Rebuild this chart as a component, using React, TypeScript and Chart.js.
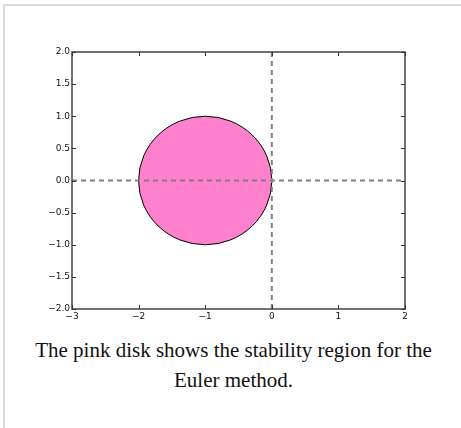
import React, { useEffect, useRef } from 'react';
import { Chart, registerables } from 'chart.js';

Chart.register(...registerables);

// ---- data ----
const xTicks = [-3, -2, -1, 0, 1, 2];
const yTicks = [-2, -1.5, -1, -0.5, 0, 0.5, 1, 1.5, 2];
const xRange = [-3, 2];
const yRange = [-2, 2];
const diskCenter = [-1, 0];
const diskRadius = 1;
const horizontalAxisLine = [
  { x: -3, y: 0 },
  { x: 2, y: 0 },
];
const verticalAxisLine = [
  { x: 0, y: -2 },
  { x: 0, y: 2 },
];
const captionLine1 = 'The pink disk shows the stability region for the';
const captionLine2 = 'Euler method.';

const MINUS = '\u2212';
const fmtX = (v: number) => (v < 0 ? MINUS : '') + Math.abs(v).toFixed(0);
const fmtY = (v: number) => (v < 0 ? MINUS : '') + Math.abs(v).toFixed(1);

const diskPlugin = {
  id: 'disk',
  beforeDatasetsDraw(chart: any) {
    const { ctx, scales } = chart;
    const x = scales.x;
    const y = scales.y;
    const cx = x.getPixelForValue(diskCenter[0]);
    const cy = y.getPixelForValue(diskCenter[1]);
    const rx = Math.abs(x.getPixelForValue(diskCenter[0] + diskRadius) - cx);
    const ry = Math.abs(y.getPixelForValue(diskCenter[1] + diskRadius) - cy);
    ctx.save();
    ctx.beginPath();
    ctx.ellipse(cx, cy, rx, ry, 0, 0, Math.PI * 2);
    ctx.fillStyle = '#ff80cc';
    ctx.fill();
    ctx.strokeStyle = '#000';
    ctx.lineWidth = 1;
    ctx.stroke();
    ctx.restore();
  },
};

const framePlugin = {
  id: 'frame',
  afterDraw(chart: any) {
    const { ctx, chartArea, scales } = chart;
    const { left, right, top, bottom } = chartArea;
    const tl = 4;
    ctx.save();
    ctx.strokeStyle = '#444';
    ctx.lineWidth = 1.5;
    ctx.beginPath();
    ctx.rect(left, top, right - left, bottom - top);
    ctx.stroke();
    ctx.lineWidth = 1;
    ctx.strokeStyle = '#333';
    ctx.beginPath();
    xTicks.forEach((v) => {
      const px = Math.round(scales.x.getPixelForValue(v)) + 0.5;
      ctx.moveTo(px, bottom);
      ctx.lineTo(px, bottom - tl);
      ctx.moveTo(px, top);
      ctx.lineTo(px, top + tl);
    });
    yTicks.forEach((v) => {
      const py = Math.round(scales.y.getPixelForValue(v)) + 0.5;
      ctx.moveTo(left, py);
      ctx.lineTo(left + tl, py);
      ctx.moveTo(right, py);
      ctx.lineTo(right - tl, py);
    });
    ctx.stroke();
    ctx.restore();
  },
};

function StabilityChart() {
  const ref = useRef<HTMLCanvasElement | null>(null);
  useEffect(() => {
    if (!ref.current) return;
    const tickFont = { family: '"DejaVu Sans", sans-serif', size: 9 };
    const dashed = {
      showLine: true,
      borderColor: '#808080',
      borderWidth: 2,
      borderDash: [5, 4],
      pointRadius: 0,
      fill: false,
    };
    const chart = new Chart(ref.current, {
      type: 'scatter',
      data: {
        datasets: [
          { ...dashed, data: horizontalAxisLine },
          { ...dashed, data: verticalAxisLine },
        ],
      },
      options: {
        animation: false,
        responsive: false,
        devicePixelRatio: 1,
        layout: { padding: { left: 0, top: 52, right: 56, bottom: 0 } },
        plugins: { legend: { display: false }, tooltip: { enabled: false } },
        scales: {
          x: {
            type: 'linear',
            min: xRange[0],
            max: xRange[1],
            grid: { display: false, drawTicks: false },
            border: { display: false },
            afterBuildTicks: (s: any) => {
              s.ticks = xTicks.map((v) => ({ value: v }));
            },
            afterFit: (s: any) => {
              s.height = 21;
            },
            ticks: {
              font: tickFont,
              color: '#111',
              padding: 2,
              maxRotation: 0,
              autoSkip: false,
              callback: (v: any) => fmtX(Number(v)),
            },
          },
          y: {
            type: 'linear',
            min: yRange[0],
            max: yRange[1],
            grid: { display: false, drawTicks: false },
            border: { display: false },
            afterBuildTicks: (s: any) => {
              s.ticks = yTicks.map((v) => ({ value: v }));
            },
            afterFit: (s: any) => {
              s.width = 72;
            },
            ticks: {
              font: tickFont,
              color: '#111',
              padding: 2,
              autoSkip: false,
              callback: (v: any) => fmtY(Number(v)),
            },
          },
        },
      },
      plugins: [diskPlugin, framePlugin],
    } as any);
    return () => chart.destroy();
  }, []);
  return (
    <canvas
      ref={ref}
      width={461}
      height={330}
      style={{ position: 'absolute', left: 0, top: 0, width: 461, height: 330 }}
    />
  );
}

export default function App() {
  return (
    <div
      style={{
        position: 'absolute',
        left: 0,
        top: 0,
        width: 461,
        height: 428,
        overflow: 'hidden',
        background: '#fff',
      }}
    >
      <div
        style={{
          position: 'absolute',
          left: 3,
          top: 4,
          width: 470,
          height: 440,
          borderLeft: '2px solid #dcdcdc',
          borderTop: '2px solid #dcdcdc',
        }}
      />
      <StabilityChart />
      <div
        style={{
          position: 'absolute',
          left: 0,
          top: 335,
          width: 467,
          textAlign: 'center',
          fontFamily: '"Liberation Serif", "Times New Roman", serif',
          fontSize: 21,
          lineHeight: '30px',
          color: '#111',
        }}
      >
        <div>{captionLine1}</div>
        <div>{captionLine2}</div>
      </div>
    </div>
  );
}
